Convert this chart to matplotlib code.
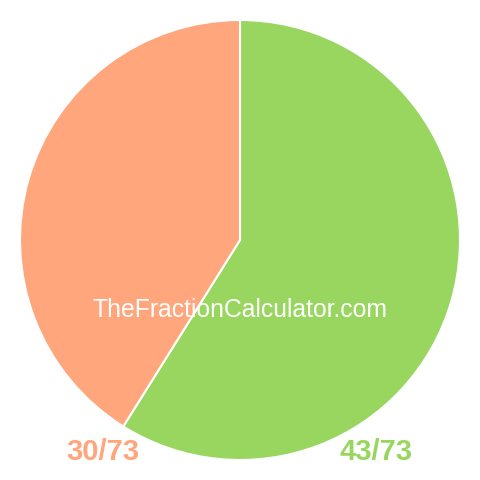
import matplotlib
matplotlib.use("Agg")
import matplotlib.pyplot as plt

labels = ["43/73", "30/73"]
values = [43, 30]
colors = ["#98D660", "#FFA67C"]
watermark = "TheFractionCalculator.com"

fig = plt.figure(figsize=(4.8, 4.8), dpi=100)
ax = fig.add_axes([0, 0, 1, 1])

ax.pie(values, colors=colors, startangle=90, counterclock=False,
       center=(240, 240), radius=220, frame=True,
       wedgeprops=dict(edgecolor="white", linewidth=1.5))
ax.set_xlim(0, 480)
ax.set_ylim(0, 480)
ax.set_aspect("equal")
ax.axis("off")

ax.text(240, 170, watermark, color="white", fontsize=17.8,
        family="Liberation Sans", ha="center", va="center")

ax.text(103, 28, labels[1], color=colors[1], fontsize=21, fontweight="bold",
        family="Liberation Sans", ha="center", va="center")
ax.text(376, 28, labels[0], color=colors[0], fontsize=21, fontweight="bold",
        family="Liberation Sans", ha="center", va="center")

fig.savefig("out.png", dpi=100, facecolor="white")
